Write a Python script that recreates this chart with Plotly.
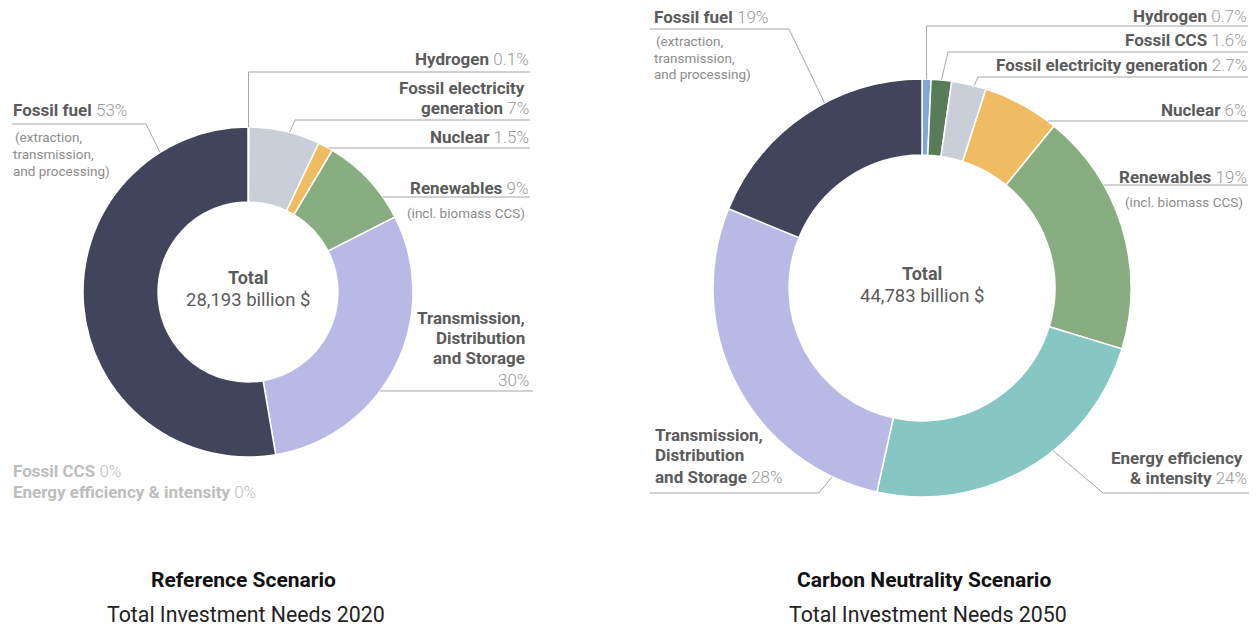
import math
import plotly.graph_objects as go

W, H = 1257, 630          # target picture size
OX, OY = 8, 8             # page body margin offset
FW, FH = W - OX, H - OY   # figure size

# ---------------- data ----------------
categories = ["Hydrogen", "Fossil CCS", "Fossil electricity generation", "Nuclear",
              "Renewables", "Energy efficiency & intensity",
              "Transmission, Distribution and Storage", "Fossil fuel"]
ref_values = [0.1, 0, 7, 1.5, 9, 0, 30, 53]          # % of total, 2020
cn_values = [0.7, 1.6, 2.7, 6, 19, 24, 28, 19]       # % of total, 2050
totals = [28193, 44783]                              # billion $
scenario_titles = ["Reference Scenario", "Carbon Neutrality Scenario"]
scenario_subtitles = ["Total Investment Needs 2020", "Total Investment Needs 2050"]

colors = ["#7fa7d7", "#5a7b57", "#c9ced8", "#f0bc63", "#88ad81",
          "#86c7c4", "#b9b9e6", "#42445c"]

# ---------------- style ----------------
FONT = "Roboto"
C_BOLD = "#5b5b5b"
C_PCT = "#9a9a9a"
C_SUB = "#8c8c8c"
C_ZERO = "#bdbdbd"
C_LINE = "#a6a6a6"
LS = 17      # label font size
SS = 13.5    # sub-label font size

# pie geometry (px): center x, center y, outer radius, hole fraction
pies = [dict(cx=248, cy=292, r=165, hole=0.545, tx=243.5, sx=246),
        dict(cx=922, cy=288, r=209, hole=0.636, tx=924.5, sx=928)]


def px(x):
    return (x - OX) / FW


def py(y):
    return 1 - (y - OY) / FH


def pct(v):
    return f"{v:g}%"


def B(s):
    return f"<b>{s}</b>"


def P(v, color=C_PCT):
    return f"<span style='color:{color};font-weight:300'>{pct(v)}</span>"


def S(s):
    return f"<span style='font-size:{SS}px;color:{C_SUB}'>{s}</span>"


fig = go.Figure()

series = [ref_values, cn_values]
for i, vals in enumerate(series):
    g = pies[i]
    fig.add_trace(go.Pie(
        labels=categories, values=vals, hole=g["hole"], sort=False,
        direction="clockwise", rotation=0, textinfo="none", hoverinfo="label+percent",
        marker=dict(colors=colors, line=dict(color="white", width=1.5)),
        domain=dict(x=[px(g["cx"] - g["r"]), px(g["cx"] + g["r"])],
                    y=[py(g["cy"] + g["r"]), py(g["cy"] - g["r"])]),
        showlegend=False,
    ))

# ---------------- label layout ----------------
labels_cfg = [
    # Reference scenario
    [
        dict(ci=0, align="right", lines=[(59, 530, B("Hydrogen") + " " + P(ref_values[0]))],
             leader=dict(mode="v", t=0.5, y=72, xend=530)),
        dict(ci=2, align="right", lines=[(88, 526, B("Fossil electricity")),
                                         (108, 530, B("generation") + " " + P(ref_values[2]))],
             leader=dict(mode="e", t=0.57, ex=295, y=120, xend=530)),
        dict(ci=3, align="right", lines=[(137, 530, B("Nuclear") + " " + P(ref_values[3]))],
             leader=dict(mode="h", y=148, xend=530)),
        dict(ci=4, align="right", lines=[(188, 530, B("Renewables") + " " + P(ref_values[4])),
                                         (213, 526, S("(incl. biomass CCS)"))],
             leader=dict(mode="h", y=197, xend=530)),
        dict(ci=6, align="right", lines=[(318, 526, B("Transmission,")), (338, 526, B("Distribution")),
                                         (358, 526, B("and Storage")), (380, 530, P(ref_values[6]))],
             leader=dict(mode="h", y=391, xend=533)),
        dict(ci=7, align="left", lines=[(110, 12, B("Fossil fuel") + " " + P(ref_values[7])),
                                        (137, 14, S("(extraction,")),
                                        (154, 12, S("transmission,")),
                                        (171, 12, S("and processing)"))],
             leader=dict(mode="e", t=0.83, ex=146, y=124, xend=12)),
    ],
    # Carbon neutrality scenario
    [
        dict(ci=0, align="right", lines=[(16, 1248, B("Hydrogen") + " " + P(cn_values[0]))],
             leader=dict(mode="v", t=0.5, y=26, xend=1248)),
        dict(ci=1, align="right", lines=[(40, 1248, B("Fossil CCS") + " " + P(cn_values[1]))],
             leader=dict(mode="e", t=0.5, ex=948, y=52, xend=1248)),
        dict(ci=2, align="right", lines=[(65, 1248, B("Fossil electricity generation") + " " + P(cn_values[2]))],
             leader=dict(mode="e", t=0.65, ex=978, y=77, xend=1248)),
        dict(ci=3, align="right", lines=[(110, 1248, B("Nuclear") + " " + P(cn_values[3]))],
             leader=dict(mode="h", y=121, xend=1248)),
        dict(ci=4, align="right", lines=[(177, 1248, B("Renewables") + " " + P(cn_values[4])),
                                         (202, 1244, S("(incl. biomass CCS)"))],
             leader=dict(mode="h", y=185, xend=1248)),
        dict(ci=5, align="right", lines=[(458, 1244, B("Energy efficiency")),
                                         (478, 1248, B("&amp; intensity") + " " + P(cn_values[5]))],
             leader=dict(mode="e", t=0.40, ex=1103, y=493, xend=1257)),
        dict(ci=6, align="left", lines=[(435, 654, B("Transmission,")), (455, 654, B("Distribution")),
                                        (477, 654, B("and Storage") + " " + P(cn_values[6]))],
             leader=dict(mode="e", t=0.13, ex=819, y=493, xend=650)),
        dict(ci=7, align="left", lines=[(17, 653, B("Fossil fuel") + " " + P(cn_values[7])),
                                        (41, 655, S("(extraction,")),
                                        (58, 653, S("transmission,")),
                                        (74, 653, S("and processing)"))],
             leader=dict(mode="e", t=0.59, ex=789, y=29, xend=650)),
    ],
]

annotations = []
shapes = []


def add_text(x, y, html, align, size=LS, color=C_BOLD):
    annotations.append(dict(
        x=px(x), y=py(y), xref="paper", yref="paper", text=html, showarrow=False,
        xanchor=align, yanchor="middle", align=align, borderpad=0,
        font=dict(family=FONT, size=size, color=color)))


for i, vals in enumerate(series):
    g = pies[i]
    tot = sum(vals)
    cum = [0]
    for v in vals:
        cum.append(cum[-1] + v)

    for lab in labels_cfg[i]:
        for (yy, xx, html) in lab["lines"]:
            add_text(xx, yy, html, lab["align"], LS, C_BOLD)
        ld = lab["leader"]
        ci = lab["ci"]
        if ld["mode"] == "h":
            dy = ld["y"] - g["cy"]
            dx = math.sqrt(max(g["r"] ** 2 - dy ** 2, 0))
            sx = g["cx"] + (dx if ld["xend"] > g["cx"] else -dx)
            pts = [(sx, ld["y"]), (ld["xend"], ld["y"])]
        else:
            frac = (cum[ci] + ld["t"] * vals[ci]) / tot
            ang = 2 * math.pi * frac
            ax = g["cx"] + g["r"] * math.sin(ang)
            ay = g["cy"] - g["r"] * math.cos(ang)
            ex = ax if ld["mode"] == "v" else ld["ex"]
            pts = [(ax, ay), (ex, ld["y"]), (ld["xend"], ld["y"])]
        path = "M " + " L ".join(f"{px(a):.5f},{py(b):.5f}" for a, b in pts)
        shapes.append(dict(type="path", path=path, xref="paper", yref="paper",
                           line=dict(color=C_LINE, width=1)))

    # center total
    add_text(g["cx"], g["cy"] - 15, B("Total"), "center", 18, C_BOLD)
    add_text(g["cx"], g["cy"] + 8, f"{totals[i]:,} billion $", "center", 18.5, C_BOLD)

    # titles
    add_text(g["tx"], 580, B(scenario_titles[i]), "center", 21, "#111111")
    add_text(g["sx"], 614, scenario_subtitles[i], "center", 21.3, "#222222")

# zero-valued categories in reference scenario
zy = 471
for ci, v in enumerate(ref_values):
    if v == 0:
        add_text(12, zy, B(categories[ci]) + " " + P(v, C_ZERO), "left", LS, C_ZERO)
        zy += 21

fig.update_layout(
    width=FW, height=FH, margin=dict(l=0, r=0, t=0, b=0),
    paper_bgcolor="white", plot_bgcolor="white",
    font=dict(family=FONT),
    annotations=annotations, shapes=shapes,
)

fig.write_html("out.html")
